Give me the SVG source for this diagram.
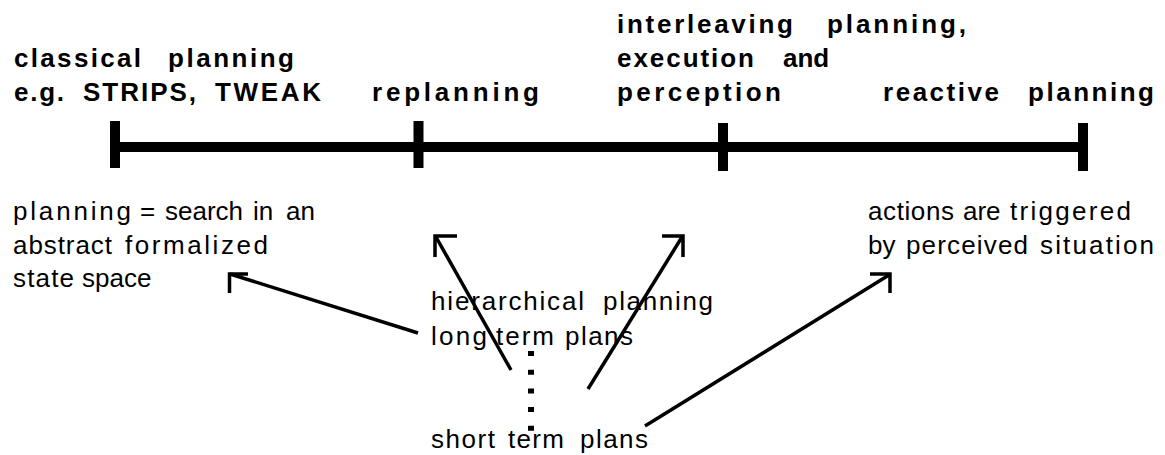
<svg xmlns="http://www.w3.org/2000/svg" width="1165" height="455" viewBox="0 0 1165 455">
<style>
  .b { font-family: "Liberation Sans", Arial, sans-serif; font-weight: bold; font-size: 26px; fill: #000; }
  .r { font-family: "Liberation Sans", Arial, sans-serif; font-size: 26px; fill: #000; }
  .bar { stroke: #000; stroke-width: 10; fill: none; }
  .con { stroke: #000; stroke-width: 3.5; fill: none; }
  .head { stroke: #000; stroke-width: 3.5; fill: none; stroke-linecap: butt; }
  .dots { stroke: #000; stroke-width: 6; stroke-dasharray: 5 13.7; fill: none; }
</style>
<rect width="1165" height="455" fill="#fff"/>

<g id="timeline">
  <line class="bar" x1="115" y1="147" x2="1083" y2="147"/>
  <line class="bar" x1="115" y1="121" x2="115" y2="168"/>
  <line class="bar" x1="418.5" y1="121" x2="418.5" y2="168"/>
  <line class="bar" x1="723" y1="123" x2="723" y2="171"/>
  <line class="bar" x1="1083" y1="123" x2="1083" y2="171"/>
</g>

<g id="classical">
  <text class="b" x="14" y="66.5" textLength="127">classical</text>
  <text class="b" x="168" y="66.5" textLength="126">planning</text>
  <text class="b" x="14" y="101" textLength="50">e.g.</text>
  <text class="b" x="83" y="101" textLength="113">STRIPS,</text>
  <text class="b" x="215" y="101" textLength="106">TWEAK</text>
</g>

<g id="replanning">
  <text class="b" x="372" y="101" textLength="167">replanning</text>
</g>

<g id="interleaving">
  <text class="b" x="617" y="33" textLength="176">interleaving</text>
  <text class="b" x="827" y="33" textLength="139">planning,</text>
  <text class="b" x="617" y="66.5" textLength="137">execution</text>
  <text class="b" x="783" y="66.5">and</text>
  <text class="b" x="617" y="101" textLength="164">perception</text>
</g>

<g id="reactive">
  <text class="b" x="883" y="101" textLength="116">reactive</text>
  <text class="b" x="1028" y="101" textLength="126">planning</text>
</g>

<g id="search">
  <text class="r" x="13" y="220" textLength="118">planning</text>
  <text class="r" x="140" y="220">=</text>
  <text class="r" x="165" y="220">search</text>
  <text class="r" x="253" y="220">in</text>
  <text class="r" x="286" y="220">an</text>
  <text class="r" x="13" y="253.5" textLength="99">abstract</text>
  <text class="r" x="125" y="253.5" textLength="143">formalized</text>
  <text class="r" x="13" y="287" textLength="61">state</text>
  <text class="r" x="82" y="287">space</text>
</g>

<g id="hierarchical">
  <text class="r" x="431" y="310" textLength="153">hierarchical</text>
  <text class="r" x="603" y="310" textLength="110">planning</text>
  <text class="r" x="431" y="345" textLength="56">long</text>
  <text class="r" x="496" y="345" textLength="58">term</text>
  <text class="r" x="565" y="345" textLength="68">plans</text>
</g>

<g id="shortterm">
  <text class="r" x="431" y="448" textLength="64">short</text>
  <text class="r" x="508" y="448" textLength="56">term</text>
  <text class="r" x="580" y="448" textLength="68">plans</text>
</g>

<g id="actions">
  <text class="r" x="868" y="220" textLength="86">actions</text>
  <text class="r" x="963" y="220">are</text>
  <text class="r" x="1010" y="220" textLength="121">triggered</text>
  <text class="r" x="868" y="253.5">by</text>
  <text class="r" x="906" y="253.5" textLength="122">perceived</text>
  <text class="r" x="1040" y="253.5" textLength="114">situation</text>
</g>

<g id="connectors">
  <line class="dots" x1="531" y1="351" x2="531" y2="432"/>
  <line class="con" x1="418" y1="333" x2="230" y2="274"/>
  <polyline class="head" points="229.5,293 229.5,274 248,274"/>
  <line class="con" x1="511" y1="370" x2="436" y2="237"/>
  <polyline class="head" points="435,257 435,236 457,236"/>
  <line class="con" x1="588" y1="389" x2="682" y2="237"/>
  <polyline class="head" points="662,236 683,236 683,257"/>
  <line class="con" x1="645" y1="426" x2="889" y2="275"/>
  <polyline class="head" points="870,274 890,274 890,293"/>
</g>
</svg>
